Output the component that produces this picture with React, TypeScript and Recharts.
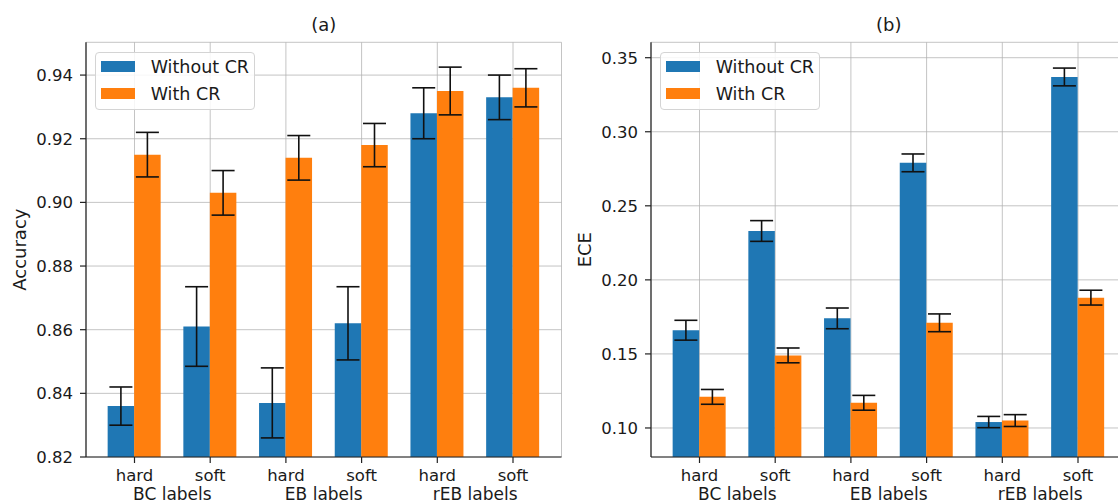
import React from 'react';
import { BarChart, Bar, XAxis, YAxis, CartesianGrid, ErrorBar, Legend } from 'recharts';

const categories = ['hard', 'soft', 'hard', 'soft', 'hard', 'soft'];
const groupLabels = ['BC labels', 'EB labels', 'rEB labels'];
const seriesNames = ['Without CR', 'With CR'];

const accWithout = [0.836, 0.861, 0.837, 0.862, 0.928, 0.933];
const accWithoutErr = [0.006, 0.0125, 0.011, 0.0115, 0.008, 0.007];
const accWith = [0.915, 0.903, 0.914, 0.918, 0.935, 0.936];
const accWithErr = [0.007, 0.007, 0.007, 0.0068, 0.0075, 0.006];

const eceWithout = [0.166, 0.233, 0.174, 0.279, 0.104, 0.337];
const eceWithoutErr = [0.0067, 0.007, 0.007, 0.006, 0.0038, 0.006];
const eceWith = [0.121, 0.149, 0.117, 0.171, 0.105, 0.188];
const eceWithErr = [0.005, 0.005, 0.005, 0.006, 0.004, 0.005];

const accTicks = [0.82, 0.84, 0.86, 0.88, 0.9, 0.92, 0.94];
const eceTicks = [0.1, 0.15, 0.2, 0.25, 0.3, 0.35];
const accDomain = [0.82, 0.9503];
const eceDomain = [0.0804, 0.3604];

const BLUE = '#1f77b4';
const ORANGE = '#ff7f0e';
const FONT = "'DejaVu Sans', 'Liberation Sans', sans-serif";
const TEXT = '#1a1a1a';
const SPINE = '#222222';
const GRID = '#b0b0b0';
const FS_TICK = 16.5;
const FS_GROUP = 17;
const FS_LEG = 17.5;
const FS_LABEL = 18;
const FS_TITLE = 18;

const CHART_W = 600;
const CHART_H = 504;
const Y_AXIS_W = 86;
const TOP = 42.3;

function buildRows(a: number[], ae: number[], b: number[], be: number[]) {
  return categories.map((c, i) => ({
    key: `c${i}`,
    cat: c,
    without: a[i],
    withoutErr: ae[i],
    with: b[i],
    withErr: be[i],
  }));
}

const accRows = buildRows(accWithout, accWithoutErr, accWith, accWithErr);
const eceRows = buildRows(eceWithout, eceWithoutErr, eceWith, eceWithErr);

const XTick = (props: any) => {
  const { x, y, payload } = props;
  const idx = payload.index;
  const half = payload.offset ?? 37.85;
  return (
    <g>
      <text x={x} y={y} dy="0.71em" textAnchor="middle" fill={TEXT} fontSize={FS_TICK} fontFamily={FONT}>
        {categories[idx]}
      </text>
      {idx % 2 === 1 ? (
        <text x={x - half} y={y + 18.5} dy="0.71em" textAnchor="middle" fill={TEXT} fontSize={FS_GROUP} fontFamily={FONT}>
          {groupLabels[(idx - 1) / 2]}
        </text>
      ) : null}
    </g>
  );
};

const LegendBox = (props: any) => {
  const payload = [...(props.payload || [])].sort(
    (a: any, b: any) => seriesNames.indexOf(a.value) - seriesNames.indexOf(b.value)
  );
  return (
    <div
      style={{
        width: 159.5,
        height: 58.5,
        boxSizing: 'border-box',
        border: '1px solid #d4d4d4',
        borderRadius: 4,
        background: 'rgba(255,255,255,0.85)',
        paddingTop: 0.8,
        fontFamily: FONT,
        fontSize: FS_LEG,
        color: TEXT,
      }}
    >
      {payload.map((p: any) => (
        <div key={p.value} style={{ height: 27, display: 'flex', alignItems: 'center' }}>
          <div style={{ width: 34, height: 11, background: p.color, marginLeft: 4.7, flex: 'none' }} />
          <span style={{ marginLeft: 16, whiteSpace: 'nowrap' }}>{p.value}</span>
        </div>
      ))}
    </div>
  );
};

const yLabelWithTitle = (text: string, title: string, plotCenterX: number) => ({
  content: (p: any) => {
    const vb = p.viewBox || { x: 0, y: TOP, width: Y_AXIS_W, height: 0 };
    const cx = vb.x + vb.width - 66.5;
    const cy = vb.y + vb.height / 2;
    return (
      <g>
        <text
          x={cx}
          y={cy}
          transform={`rotate(-90, ${cx}, ${cy})`}
          textAnchor="middle"
          dominantBaseline="central"
          fill={TEXT}
          fontSize={FS_LABEL}
          fontFamily={FONT}
        >
          {text}
        </text>
        <text x={plotCenterX} y={vb.y - 11.3} textAnchor="middle" fill={TEXT} fontSize={FS_TITLE} fontFamily={FONT}>
          {title}
        </text>
      </g>
    );
  },
});

type PanelProps = {
  rows: any[];
  ticks: number[];
  domain: number[];
  title: string;
  ylabel: string;
  marginLeft: number;
  marginRight: number;
};

const Panel = ({ rows, ticks, domain, title, ylabel, marginLeft, marginRight }: PanelProps) => {
  const plotCenterX = (marginLeft + Y_AXIS_W + (CHART_W - marginRight)) / 2;
  return (
    <BarChart
      width={CHART_W}
      height={CHART_H}
      data={rows}
      margin={{ top: TOP, right: marginRight, bottom: 0, left: marginLeft }}
      barGap={0}
      barSize={26.5}
    >
      <XAxis
        dataKey="key"
        type="category"
        height={47}
        padding={{ left: 10.65, right: 10.65 }}
        tick={<XTick />}
        tickSize={6}
        tickMargin={6}
        interval={0}
        axisLine={{ stroke: SPINE, strokeWidth: 1.2 }}
        tickLine={{ stroke: SPINE, strokeWidth: 1.2 }}
      />
      <XAxis
        xAxisId="top"
        dataKey="key"
        orientation="top"
        height={0}
        tick={false}
        tickLine={false}
        padding={{ left: 10.65, right: 10.65 }}
        axisLine={{ stroke: SPINE, strokeWidth: 1.2 }}
      />
      <YAxis
        type="number"
        domain={domain}
        allowDataOverflow
        ticks={ticks}
        width={Y_AXIS_W}
        tickFormatter={(v: number) => v.toFixed(2)}
        tick={{ fill: TEXT, fontSize: FS_TICK, fontFamily: FONT }}
        tickSize={6}
        tickMargin={7}
        axisLine={{ stroke: SPINE, strokeWidth: 1.2 }}
        tickLine={{ stroke: SPINE, strokeWidth: 1.2 }}
        label={yLabelWithTitle(ylabel, title, plotCenterX)}
      />
      <YAxis
        yAxisId="right"
        orientation="right"
        type="number"
        domain={domain}
        allowDataOverflow
        width={0}
        tick={false}
        tickLine={false}
        axisLine={{ stroke: SPINE, strokeWidth: 1.2 }}
      />
      <Bar dataKey="without" name={seriesNames[0]} fill={BLUE} isAnimationActive={false}>
        <ErrorBar dataKey="withoutErr" width={11.5} stroke="#111" strokeWidth={1.6} direction="y" />
      </Bar>
      <Bar dataKey="with" name={seriesNames[1]} fill={ORANGE} isAnimationActive={false}>
        <ErrorBar dataKey="withErr" width={11.5} stroke="#111" strokeWidth={1.6} direction="y" />
      </Bar>
      <CartesianGrid stroke={GRID} strokeOpacity={0.75} strokeWidth={1} />
      <Legend
        layout="vertical"
        verticalAlign="middle"
        align="center"
        content={<LegendBox />}
        wrapperStyle={{ left: marginLeft + Y_AXIS_W + 9, top: 51.7, width: 159.5, height: 58.5 }}
      />
    </BarChart>
  );
};

export default function App() {
  return (
    <div
      style={{
        position: 'absolute',
        left: 0,
        top: 0,
        width: 1118,
        height: 504,
        overflow: 'hidden',
        background: '#ffffff',
        fontFamily: FONT,
      }}
    >
      <div style={{ position: 'absolute', left: 0, top: 0 }}>
        <Panel rows={accRows} ticks={accTicks} domain={accDomain} title="(a)" ylabel="Accuracy" marginLeft={0} marginRight={38.5} />
      </div>
      <div style={{ position: 'absolute', left: 558, top: 0 }}>
        <Panel rows={eceRows} ticks={eceTicks} domain={eceDomain} title="(b)" ylabel="ECE" marginLeft={7} marginRight={31.5} />
      </div>
    </div>
  );
}
